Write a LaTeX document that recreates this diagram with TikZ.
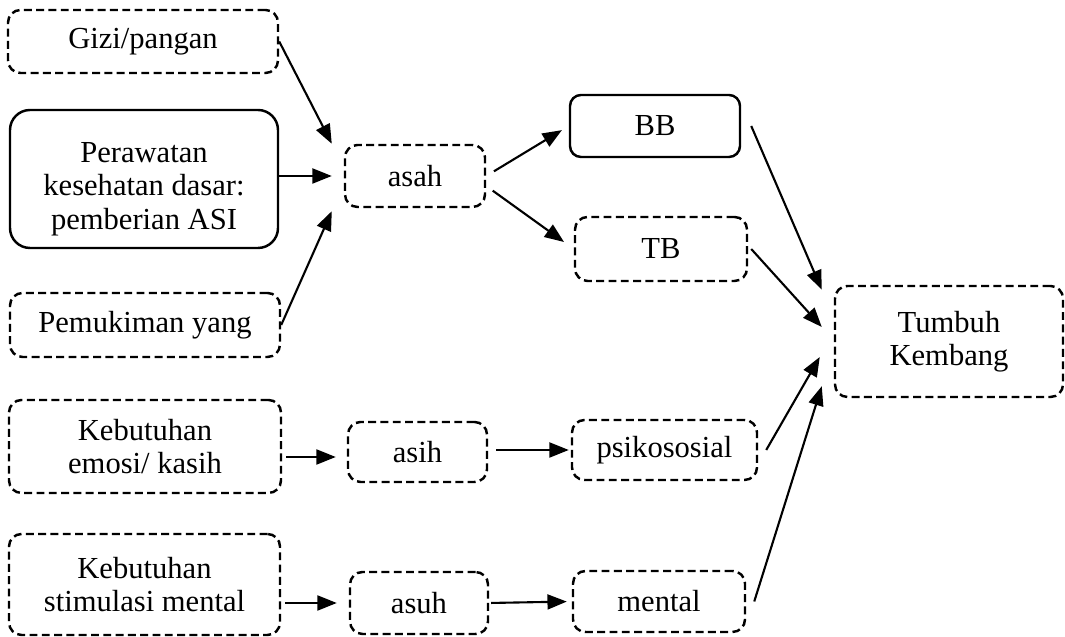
\documentclass[tikz,border=0pt]{standalone}
\usepackage{fontspec}
\setmainfont{Liberation Serif}
\usetikzlibrary{arrows.meta}
\begin{document}
\begin{tikzpicture}[font=\fontsize{17.4}{19}\selectfont,
dbox/.style={draw, line width=1.4pt, dash pattern=on 4.5pt off 2.5pt, rounded corners=0.25cm, align=center, inner sep=0pt},
sbox/.style={draw, line width=1.4pt, rounded corners=0.22cm, align=center, inner sep=0pt},
arrow/.style={line width=1.2pt, -{Triangle[length=11pt,width=8.5pt]}}]
\useasboundingbox (0,0) rectangle (21.3,12.74);
\node [dbox, minimum width=5.4cm, minimum height=1.26cm] (gizi) at (2.86,11.91) {Gizi/pangan};
\node [sbox, rounded corners=0.4cm, minimum width=5.36cm, minimum height=2.76cm] (perawatan) at (2.88,9.16) {\rule{0pt}{0.8cm}Perawatan\\kesehatan dasar:\\pemberian ASI};
\node [dbox, minimum width=5.4cm, minimum height=1.28cm] (pemukiman) at (2.9,6.24) {Pemukiman yang};
\node [dbox, minimum width=2.8cm, minimum height=1.24cm] (asah) at (8.3,9.22) {asah};
\node [sbox, minimum width=3.4cm, minimum height=1.24cm] (BB) at (13.1,10.22) {BB};
\node [dbox, minimum width=3.44cm, minimum height=1.28cm] (TB) at (13.22,7.76) {TB};
\node [dbox, minimum width=4.56cm, minimum height=2.22cm] (tumbuh) at (18.98,5.91) {Tumbuh\\Kembang};
\node [dbox, minimum width=5.44cm, minimum height=1.86cm] (emosi) at (2.9,3.81) {Kebutuhan\\emosi/ kasih};
\node [dbox, minimum width=2.78cm, minimum height=1.2cm] (asih) at (8.35,3.7) {asih};
\node [dbox, minimum width=3.7cm, minimum height=1.2cm] (psiko) at (13.29,3.74) {psikososial};
\node [dbox, minimum width=5.42cm, minimum height=2.02cm] (stimulasi) at (2.89,1.05) {Kebutuhan\\stimulasi mental};
\node [dbox, minimum width=2.76cm, minimum height=1.24cm] (asuh) at (8.38,0.68) {asuh};
\node [dbox, minimum width=3.44cm, minimum height=1.22cm] (mental) at (13.18,0.71) {mental};
\draw[arrow] (gizi.east) -- ([xshift=-0.24cm]asah.north west);
\draw[arrow, shorten >=0.24cm] (perawatan.east |- asah.west) -- (asah.west);
\draw[arrow] (pemukiman.east) -- ([xshift=-0.24cm,yshift=-0.06cm]asah.south west);
\draw[arrow, shorten <=0.18cm, shorten >=0.16cm] (asah.east) -- (BB.west);
\draw[arrow, shorten <=0.16cm, shorten >=0.24cm] (asah.-8) -- (TB.west);
\draw[arrow] ([xshift=0.2cm]BB.east) -- ([xshift=-0.24cm,yshift=-0.1cm]tumbuh.north west);
\draw[arrow] ([xshift=0.06cm]TB.east) -- ([xshift=-0.24cm,yshift=0.29cm]tumbuh.west);
\draw[arrow] ([xshift=0.16cm]psiko.east) -- ([xshift=-0.28cm,yshift=-0.31cm]tumbuh.west);
\draw[arrow] ([xshift=0.16cm]mental.east) -- ([xshift=-0.24cm,yshift=0.24cm]tumbuh.south west);
\draw[arrow, shorten <=0.08cm, shorten >=0.22cm] ([yshift=-0.1cm]emosi.east |- asih.west) -- ([yshift=-0.1cm]asih.west);
\draw[arrow, shorten <=0.16cm, shorten >=0.04cm] (asih.east |- psiko.west) -- (psiko.west);
\draw[arrow, shorten <=0.08cm, shorten >=0.24cm] (stimulasi.east |- asuh.west) -- (asuh.west);
\draw[arrow, shorten <=0.04cm, shorten >=0.1cm] (asuh.east) -- (mental.west);
\end{tikzpicture}
\end{document}
